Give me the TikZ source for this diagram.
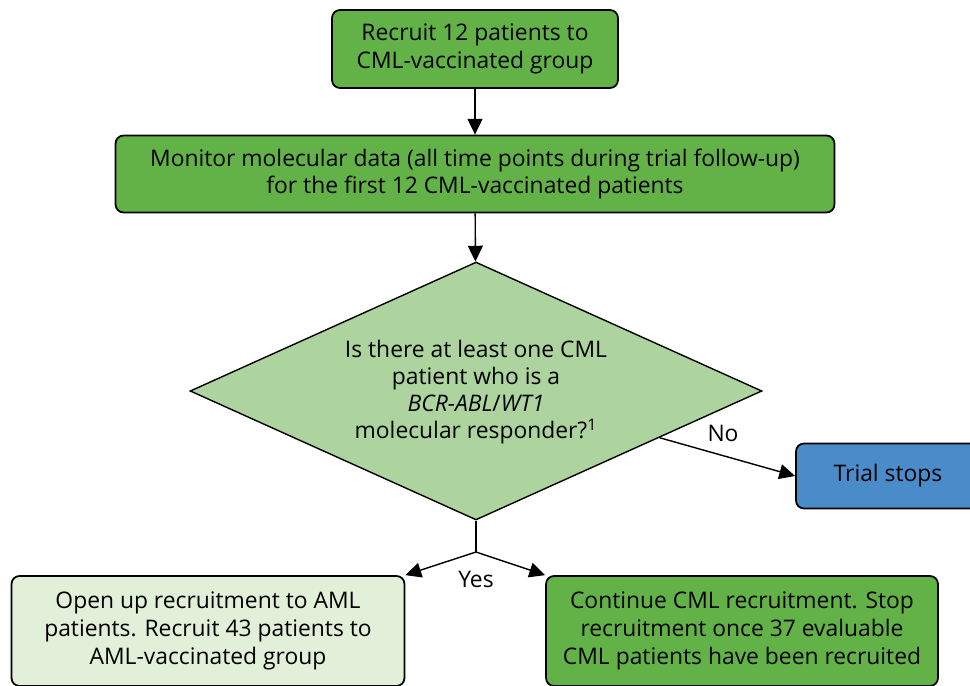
\documentclass[tikz,border=0pt]{standalone}
\usepackage{fontspec}
\setmainfont{Open Sans}
\usetikzlibrary{shapes.geometric,arrows.meta,calc}
\definecolor{boxgreen}{RGB}{98,178,72}
\definecolor{palegreen}{RGB}{173,212,158}
\definecolor{lightgreen}{RGB}{226,239,217}
\definecolor{stopblue}{RGB}{74,140,201}

\begin{document}
\begin{tikzpicture}[x=0.02cm,y=-0.02cm,
  box/.style={draw,line width=1pt,rounded corners=0.16cm,align=center,
    fill=boxgreen,font=\fontsize{13}{15.8}\selectfont},
  decision/.style={draw,diamond,line width=0.8pt,fill=palegreen,aspect=2.2,
    inner sep=0pt,minimum width=11.44cm,minimum height=5.16cm},
  arr/.style={line width=0.8pt,-{Triangle[length=9pt,width=8.5pt]}},
  lbl/.style={font=\fontsize{13}{15.4}\selectfont}]
\useasboundingbox (0,0) rectangle (970,686);
\node[box,minimum width=5.72cm,minimum height=1.56cm] (recruit) at (475,49)
  {Recruit 12 patients to\\CML-vaccinated group};
\node[box,minimum width=14.38cm,minimum height=1.54cm] (monitor) at (475,174)
  {Monitor molecular data (all time points during trial follow-up)\\
   for the first 12 CML-vaccinated patients};
\node[decision] (check) at (476,391) {};
\node[lbl,align=center] (question) at (476,392)
  {Is there at least one CML\\patient who is a\\
   \textit{BCR-ABL}/\textit{WT1}\\molecular responder?\textsuperscript{1}};
\node[box,fill=stopblue,minimum width=3.68cm,minimum height=1.3cm] (stop) at (888,476)
  {Trial stops};
\node[box,fill=lightgreen,minimum width=7.86cm,minimum height=2.2cm] (aml) at (208,631)
  {Open up recruitment to AML\\patients. Recruit 43 patients to\\AML-vaccinated group};
\node[box,minimum width=7.84cm,minimum height=2.2cm] (cml) at (742,631)
  {Continue CML recruitment. Stop\\recruitment once 37 evaluable\\CML patients have been recruited};
\coordinate (split) at (476,552);
\draw[arr] (recruit) -- (monitor);
\draw[arr] (monitor) -- (check);
\draw[arr] ($(check.east)!0.36!(check.south)$) -- (stop.west);
\node[lbl] (no) at (723,433) {No};
\draw[line width=0.8pt] (check.south) -- (split);
\draw[arr] (split) -- (aml.north east);
\draw[arr] (split) -- (cml.north west);
\node[lbl] (yes) at (476,579) {Yes};
\end{tikzpicture}
\end{document}
